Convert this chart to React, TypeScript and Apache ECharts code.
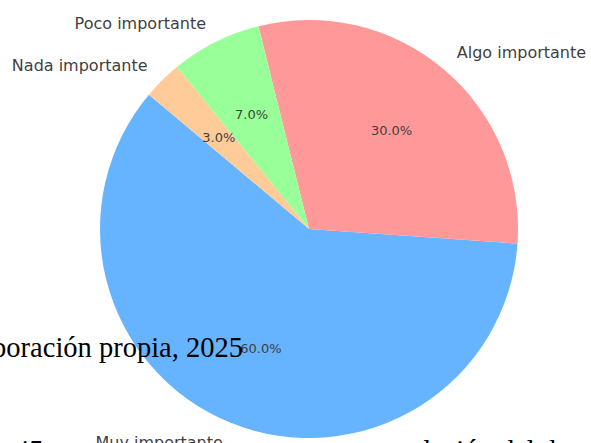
import React, { useEffect, useRef } from "react";
import * as echarts from "echarts";

const categories = ["Muy importante", "Algo importante", "Poco importante", "Nada importante"];
const values = [60, 30, 7, 3];
const colors = ["#66b3ff", "#ff9999", "#99ff99", "#ffcc99"];
const captionLine = "Fuente: Elaboración propia, 2025";
const bottomLeft = "45 t";
const bottomRight = "relación del dato";

export default function App() {
  const ref = useRef<HTMLDivElement>(null);
  useEffect(() => {
    if (!ref.current) return;
    const chart = echarts.init(ref.current, undefined, { renderer: "svg" });
    const total = values.reduce((a, b) => a + b, 0);
    const cx = 309;
    const cy = 229;
    const r = 209;
    const data = categories.map((name, i) => ({
      name,
      value: values[i],
      itemStyle: { color: colors[i] },
    }));
    chart.setOption({
      animation: false,
      backgroundColor: "#ffffff",
      series: [
        {
          type: "pie",
          center: [cx, cy],
          radius: [0, r],
          startAngle: 140,
          clockwise: false,
          avoidLabelOverlap: false,
          silent: true,
          data,
          label: {
            show: true,
            position: "outside",
            fontFamily: "DejaVu Sans",
            fontSize: 16,
            color: "#3f3f3f",
            distanceToLabelLine: 0,
            formatter: "{b}",
          },
          labelLine: { show: false, length: r * 0.1, length2: 0 },
          emphasis: { disabled: true },
        },
        {
          type: "pie",
          center: [cx, cy],
          radius: [0, r * 1.2],
          startAngle: 140,
          clockwise: false,
          avoidLabelOverlap: false,
          silent: true,
          data: categories.map((name, i) => ({ name, value: values[i] })),
          itemStyle: { color: "rgba(0,0,0,0)" },
          label: {
            show: true,
            position: "inside",
            fontFamily: "DejaVu Sans",
            fontSize: 13,
            color: "#3f3f3f",
            formatter: (p: any) => ((p.value / total) * 100).toFixed(1) + "%",
          },
          labelLine: { show: false },
          emphasis: { disabled: true },
        },
      ],
      graphic: [
        {
          type: "text",
          x: 243,
          y: 347,
          z: 100,
          style: {
            text: captionLine,
            font: "28.5px 'Liberation Serif'",
            fill: "#000000",
            align: "right",
            verticalAlign: "middle",
          },
        },
        {
          type: "text",
          x: 15,
          y: 436,
          z: 100,
          style: {
            text: bottomLeft,
            font: "28.5px 'Liberation Serif'",
            fill: "#000000",
            align: "left",
            verticalAlign: "top",
          },
        },
        {
          type: "text",
          x: 401,
          y: 436,
          z: 100,
          style: {
            text: bottomRight,
            font: "28.5px 'Liberation Serif'",
            fill: "#000000",
            align: "left",
            verticalAlign: "top",
          },
        },
      ],
    });
    return () => chart.dispose();
  }, []);
  return (
    <div
      ref={ref}
      style={{ position: "fixed", left: 0, top: 0, width: 591, height: 443 }}
    />
  );
}
